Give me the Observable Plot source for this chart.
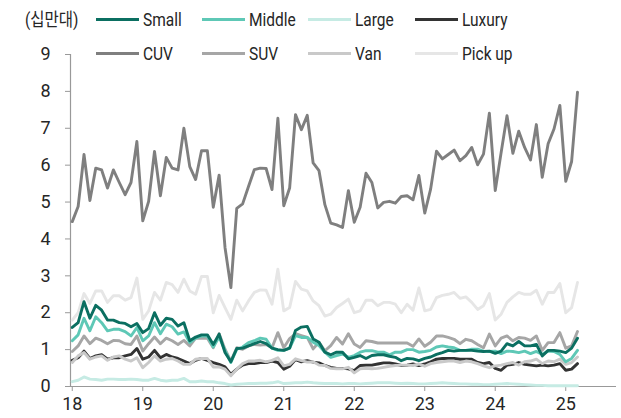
<!DOCTYPE html>
<html><head><meta charset="utf-8">
<script src="https://cdn.jsdelivr.net/npm/d3@7"></script>
<script src="https://cdn.jsdelivr.net/npm/@observablehq/plot@0.6"></script>
<style>
body{margin:0;background:#fff;}
#wrap{position:relative;width:621px;height:418px;font-family:Roboto,"Noto Sans CJK KR",sans-serif;color:#262626;}
.leg{position:absolute;font-size:18px;line-height:18px;white-space:nowrap;transform-origin:0 50%;transform:scaleX(0.86);}
.sw{position:absolute;height:3px;width:43px;}
</style></head><body><div id="wrap"></div>
<script>
const startYear = 2018;
const unitLabel = "(십만대)";
const seriesNames = ["Small","Middle","Large","Luxury","CUV","SUV","Van","Pick up"];
const seriesColors = ["#0b6f61","#5ec8b6","#c6ebe4","#333333","#7f7f7f","#a6a6a6","#c9c9c9","#e6e6e6"];
const drawOrder = ["Pick up","Large","CUV","SUV","Luxury","Van","Middle","Small"];
const yTicks = [0,1,2,3,4,5,6,7,8,9];
const xTickYears = [2018,2019,2020,2021,2022,2023,2024,2025];
const xTickLabels = ["18","19","20","21","22","23","24","25"];

const small = [1.60,1.73,2.30,1.85,2.20,2.07,1.80,1.80,1.73,1.71,
 1.62,1.71,1.46,1.57,2.00,1.66,1.85,1.82,1.64,1.73,
 1.24,1.34,1.40,1.40,1.14,1.42,0.92,0.67,1.03,1.04,
 1.10,1.16,1.22,1.16,1.04,1.00,0.98,1.04,1.52,1.61,
 1.63,1.29,1.20,0.93,0.86,0.93,0.93,0.75,0.79,0.84,
 0.76,0.84,0.86,0.86,0.82,0.79,0.70,0.76,0.75,0.70,
 0.76,0.80,0.87,0.92,0.98,0.96,0.98,0.98,0.98,0.96,
 0.95,0.96,0.90,0.96,1.16,1.10,1.22,1.10,1.10,1.14,
 0.83,0.98,0.98,0.96,0.92,1.04,1.31];
const middle = [1.24,1.40,1.85,1.51,1.89,1.73,1.51,1.55,1.55,1.49,
 1.37,1.60,1.24,1.37,1.73,1.43,1.69,1.62,1.42,1.48,
 1.19,1.31,1.37,1.37,1.07,1.34,0.98,0.65,1.01,1.07,
 1.19,1.24,1.31,1.28,1.04,0.98,0.98,1.04,1.38,1.33,
 1.33,1.20,1.11,0.93,0.79,0.84,0.88,0.79,0.84,0.93,
 0.97,0.97,0.93,0.93,0.86,0.93,0.93,1.00,1.00,0.93,
 0.95,0.98,1.07,1.10,1.07,1.05,0.98,0.98,1.01,1.01,
 0.96,0.95,0.96,0.89,0.96,0.95,0.92,0.96,0.89,0.95,
 0.87,0.96,0.95,0.87,0.67,0.76,0.98];
const large = [0.13,0.17,0.26,0.20,0.19,0.17,0.20,0.20,0.19,0.19,
 0.20,0.19,0.17,0.17,0.22,0.17,0.15,0.17,0.17,0.22,
 0.13,0.13,0.15,0.13,0.13,0.10,0.08,0.04,0.06,0.07,
 0.08,0.08,0.09,0.09,0.10,0.13,0.08,0.09,0.10,0.10,
 0.12,0.10,0.09,0.08,0.08,0.08,0.07,0.08,0.08,0.07,
 0.08,0.09,0.10,0.10,0.10,0.09,0.08,0.09,0.08,0.07,
 0.07,0.08,0.09,0.10,0.09,0.08,0.07,0.07,0.06,0.06,
 0.05,0.05,0.06,0.07,0.08,0.07,0.06,0.05,0.04,0.03,
 0.03,0.02,0.02,0.02,0.02,0.02,0.02];
const luxury = [0.71,0.78,0.96,0.76,0.83,0.86,0.74,0.78,0.78,0.83,
 0.87,1.03,0.74,0.80,0.98,0.78,0.87,0.80,0.76,0.69,
 0.62,0.71,0.76,0.71,0.65,0.60,0.53,0.33,0.47,0.58,
 0.62,0.62,0.65,0.65,0.69,0.65,0.47,0.55,0.73,0.67,
 0.70,0.66,0.64,0.57,0.52,0.49,0.49,0.48,0.43,0.57,
 0.58,0.58,0.61,0.64,0.64,0.61,0.57,0.58,0.61,0.57,
 0.61,0.67,0.74,0.76,0.76,0.76,0.74,0.74,0.74,0.65,
 0.62,0.65,0.49,0.44,0.58,0.60,0.65,0.60,0.58,0.56,
 0.58,0.56,0.58,0.62,0.44,0.47,0.62];
const cuv = [4.47,4.88,6.29,5.04,5.92,5.87,5.38,5.87,5.53,5.20,
 5.53,6.64,4.49,5.02,6.37,5.17,6.21,5.92,5.87,7.00,
 5.96,5.61,6.39,6.39,4.86,5.73,3.77,2.68,4.83,4.95,
 5.42,5.88,5.92,5.91,5.34,7.27,4.90,5.38,7.37,6.96,
 7.35,6.06,5.85,4.93,4.43,4.38,4.31,5.31,4.45,4.86,
 5.78,5.53,4.84,4.99,5.02,4.97,5.15,5.17,5.06,5.72,
 4.70,5.35,6.38,6.17,6.29,6.41,6.12,6.26,6.48,6.01,
 6.30,7.41,5.31,6.34,7.34,6.32,6.92,6.48,6.14,7.10,
 5.67,6.58,6.98,7.62,5.56,6.10,7.98];
const suv = [0.95,1.10,1.37,1.16,1.31,1.25,1.16,1.25,1.24,1.16,
 1.14,1.37,0.96,1.16,1.34,1.16,1.31,1.24,1.14,1.25,
 1.10,1.31,1.31,1.31,1.05,1.43,1.01,0.69,1.05,1.01,
 1.10,1.14,1.12,1.14,1.05,1.46,1.05,1.30,1.43,1.38,
 1.33,1.02,1.20,0.97,1.11,1.33,1.15,1.43,1.15,1.06,
 1.24,1.22,1.18,1.18,1.18,1.18,1.18,1.18,1.09,1.29,
 1.09,1.20,1.37,1.37,1.33,1.28,1.16,1.28,1.24,1.14,
 1.05,1.42,1.10,1.31,1.37,1.24,1.33,1.31,1.25,1.37,
 0.98,1.19,1.19,1.46,1.04,1.10,1.49];
const van = [0.65,0.83,0.92,0.74,0.80,0.83,0.71,0.80,0.83,0.74,
 0.69,0.78,0.51,0.65,0.83,0.69,0.74,0.76,0.69,0.60,
 0.60,0.74,0.76,0.76,0.53,0.53,0.47,0.29,0.47,0.62,
 0.69,0.69,0.71,0.67,0.71,0.78,0.56,0.60,0.75,0.70,
 0.66,0.67,0.58,0.57,0.49,0.48,0.48,0.52,0.37,0.48,
 0.49,0.48,0.49,0.52,0.55,0.57,0.58,0.58,0.57,0.61,
 0.55,0.62,0.65,0.67,0.69,0.69,0.65,0.69,0.67,0.62,
 0.56,0.51,0.56,0.58,0.62,0.65,0.58,0.67,0.69,0.74,
 0.62,0.69,0.67,0.74,0.60,0.65,0.80];
const pickup = [1.80,2.00,2.52,2.25,2.59,2.59,2.28,2.46,2.46,2.34,
 2.41,2.94,1.82,2.05,2.55,2.34,2.82,2.76,2.55,2.91,
 2.59,2.50,2.98,2.98,2.00,2.47,2.14,1.82,2.34,2.05,
 2.32,2.55,2.62,2.61,2.23,3.18,2.05,2.14,2.85,2.64,
 2.59,2.32,2.19,1.91,1.96,2.14,2.25,2.37,2.00,2.05,
 2.34,2.34,2.19,2.28,2.28,2.23,2.00,2.23,2.07,2.67,
 2.05,2.09,2.41,2.47,2.50,2.55,2.39,2.43,2.28,2.09,
 2.19,2.52,1.80,1.96,2.28,2.43,2.55,2.50,2.50,2.61,
 2.23,2.55,2.55,2.79,2.00,2.14,2.82];

const seriesValues = {"Small":small,"Middle":middle,"Large":large,"Luxury":luxury,"CUV":cuv,"SUV":suv,"Van":van,"Pick up":pickup};
const rows = [];
for (const name of drawOrder) {
  seriesValues[name].forEach((v, i) => rows.push({series: name, t: startYear + i / 12, v}));
}

const font = 'Roboto,"Noto Sans CJK KR",sans-serif';
const chart = Plot.plot({
  width: 621, height: 418,
  marginTop: 54, marginBottom: 32, marginLeft: 70, marginRight: 5,
  style: {fontFamily: font, fontSize: "18px", color: "#262626", background: "#fff", overflow: "visible"},
  x: {type: "linear", domain: [2017.975, 2025.72]},
  y: {domain: [0, 9]},
  color: {domain: seriesNames, range: seriesColors},
  marks: [
    Plot.axisY({ticks: yTicks, tickSize: 5, tickPadding: 15, stroke: "#999", fill: "#262626", label: null, tickFormat: d => String(d)}),
    Plot.axisX({ticks: xTickYears, tickSize: 5, tickPadding: 6, stroke: "#999", fill: "#262626", label: null,
      tickFormat: d => xTickLabels[xTickYears.indexOf(d)]}),
    Plot.ruleX([2017.975], {stroke: "#999", strokeWidth: 1.2}),
    Plot.ruleY([0], {stroke: "#999", strokeWidth: 1.2}),
    Plot.line(rows, {x: "t", y: "v", z: "series", stroke: "series", strokeWidth: 2.9, strokeLinejoin: "round", strokeLinecap: "round"})
  ]
});

const wrap = document.getElementById("wrap");
wrap.appendChild(chart);
chart.style.position = "absolute";
chart.style.left = "0px";
chart.style.top = "0px";

// legend overlay
const legCols = [96, 202, 308, 415];
const legRows = [19, 53];
const unit = document.createElement("div");
unit.className = "leg";
unit.textContent = unitLabel;
unit.style.left = "25px";
unit.style.top = (legRows[0] - 8) + "px";
wrap.appendChild(unit);
seriesNames.forEach((name, k) => {
  const col = legCols[k % 4], row = legRows[Math.floor(k / 4)];
  const sw = document.createElement("div");
  sw.className = "sw";
  sw.style.left = col + "px";
  sw.style.top = (row - 1.5) + "px";
  sw.style.background = seriesColors[k];
  wrap.appendChild(sw);
  const tx = document.createElement("div");
  tx.className = "leg";
  tx.textContent = name;
  tx.style.left = (col + 47) + "px";
  tx.style.top = (row - 8) + "px";
  wrap.appendChild(tx);
});
</script></body></html>
